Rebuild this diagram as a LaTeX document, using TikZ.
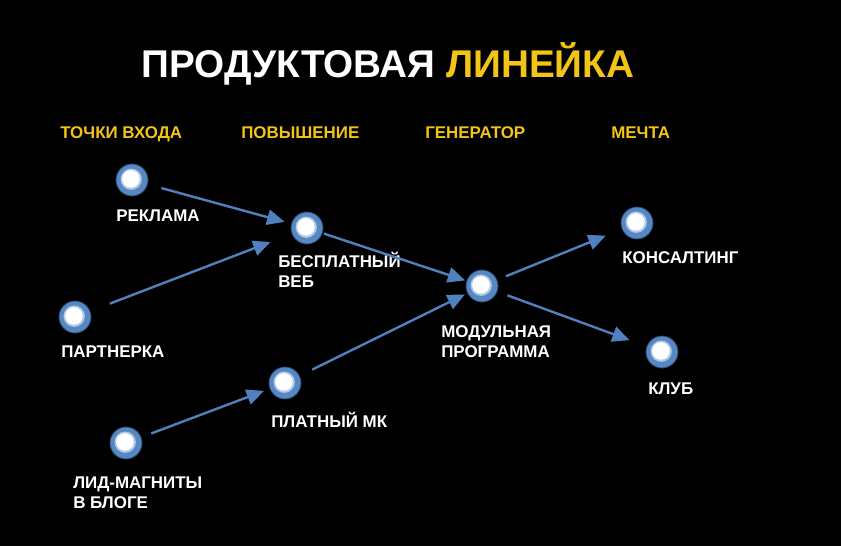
\documentclass[tikz,border=0pt]{standalone}
\usepackage{fontspec}
\setmainfont{Liberation Sans}
\usetikzlibrary{arrows.meta}
\definecolor{dotblue}{RGB}{86,136,196}
\definecolor{rimblue}{RGB}{40,70,110}
\definecolor{flowblue}{RGB}{80,128,190}
\definecolor{headyellow}{RGB}{242,196,24}
\tikzset{
  dot/.style={circle, fill=dotblue, draw=rimblue, line width=0.6pt, minimum size=24pt, inner sep=0pt,
    path picture={\fill[dotblue!45!white] ([shift={(-0.6pt,0.6pt)}]path picture bounding box.center) circle (8pt);
      \fill[white] ([shift={(-0.8pt,0.8pt)}]path picture bounding box.center) circle (6.6pt);}},
  flow/.style={draw=flowblue, line width=1.8pt, -{Triangle[length=13pt,width=11.5pt]}},
  lbl/.style={text=white, font=\bfseries\fontsize{12.7}{15}\selectfont, anchor=base west, align=left, inner sep=0pt},
  head/.style={lbl, text=headyellow}
}
\begin{document}
\begin{tikzpicture}[x=0.75pt, y=-0.75pt]
                \fill[black] (0,0) rectangle (841,546);
                \useasboundingbox (0,0) rectangle (841,546);
                % title
                \node[lbl, font=\bfseries\fontsize{29}{32}\selectfont, anchor=base] (title) at (388,77)
                  {ПРОДУКТОВАЯ \textcolor{headyellow}{ЛИНЕЙКА}};
                % columns
                \node[head] (h1) at (60,138.5) {ТОЧКИ ВХОДА};
                \node[head] (h2) at (241,138.5) {ПОВЫШЕНИЕ};
                \node[head] (h3) at (425,138.5) {ГЕНЕРАТОР};
                \node[head] (h4) at (611,138.5) {МЕЧТА};
                % points
                \node[dot] (ads) at (132,180) {};
                \node[dot] (partner) at (75,317) {};
                \node[dot] (leadmag) at (126,443) {};
                \node[dot] (freeweb) at (307,228) {};
                \node[dot] (paidmk) at (285,383) {};
                \node[dot] (modprog) at (482,286) {};
                \node[dot] (consult) at (637,223) {};
                \node[dot] (club) at (662,352) {};
                % labels (multi-line: base is the last line)
                \node[lbl] (adsL) at (116,221.5) {РЕКЛАМА};
                \node[lbl] (partnerL) at (61,357.5) {ПАРТНЕРКА};
                \node[lbl] (leadmagL) at (73,508.5) {ЛИД-МАГНИТЫ\\В БЛОГЕ};
                \node[lbl] (freewebL) at (278,287.5) {БЕСПЛАТНЫЙ\\ВЕБ};
                \node[lbl] (paidmkL) at (271,427.5) {ПЛАТНЫЙ МК};
                \node[lbl] (modprogL) at (441,357.5) {МОДУЛЬНАЯ\\ПРОГРАММА};
                \node[lbl] (consultL) at (622,263.5) {КОНСАЛТИНГ};
                \node[lbl] (clubL) at (648,394.5) {КЛУБ};
                % arrows
                \draw[flow, shorten <=10.5pt, shorten >=5.2pt] (ads) -- (freeweb);
                \draw[flow, shorten <=15.7pt, shorten >=17pt] (partner) -- (freeweb);
                \draw[flow, shorten <=8pt, shorten >=4.5pt] (leadmag) -- (paidmk);
                \draw[flow, shorten <=1pt, shorten >=1pt] (freeweb) -- (modprog);
                \draw[flow, shorten <=10.5pt, shorten >=2pt] (paidmk) -- (modprog);
                \draw[flow, shorten <=7pt, shorten >=13pt] (modprog) -- (consult);
                \draw[flow, shorten <=8pt, shorten >=13.5pt] (modprog) -- (club);
            \end{tikzpicture}
\end{document}
